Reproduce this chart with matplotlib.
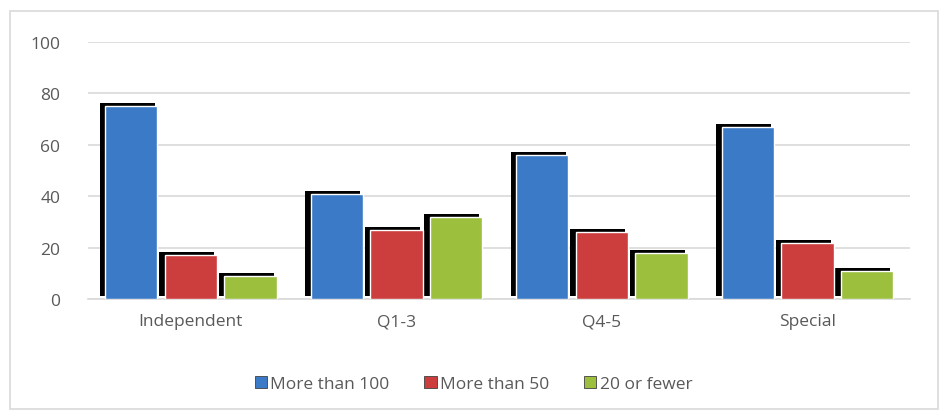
import matplotlib.pyplot as plt
import numpy as np
from matplotlib.transforms import ScaledTranslation
from matplotlib.patches import Rectangle

categories = ["Independent", "Q1-3", "Q4-5", "Special"]
more_than_100 = [75, 41, 56, 67]
more_than_50 = [17, 27, 26, 22]
twenty_or_fewer = [9, 32, 18, 11]

series = [("More than 100", more_than_100, "#3B7AC6"),
          ("More than 50", more_than_50, "#CC3E3E"),
          ("20 or fewer", twenty_or_fewer, "#9CBF3E")]

plt.rcParams['font.family'] = ['Open Sans', 'DejaVu Sans']

fig = plt.figure(figsize=(9.47, 4.14), dpi=100)
ax = fig.add_axes([0.093, 0.275, 0.868, 0.621])

# outer chart border
fig.patches.append(Rectangle((10/947, 1-410/414), 928/947, 398/414,
                             transform=fig.transFigure, fill=False,
                             edgecolor="#D9D9D9", linewidth=1.2))

x = np.arange(len(categories))
width = 0.255
step = 0.29
shadow = ax.transData + ScaledTranslation(-4/100, 3/100, fig.dpi_scale_trans)

handles = []
for i, (name, vals, col) in enumerate(series):
    pos = x + (i - 1) * step
    ax.bar(pos, vals, width + 0.012, color="black", transform=shadow, zorder=2)
    ax.bar(pos - 0.02, [min(2, v) for v in vals], 0.02, color="black", zorder=2)
    b = ax.bar(pos, vals, width, color=col, edgecolor="white", linewidth=1.0,
               zorder=3, label=name)
    handles.append(b)

ax.set_xlim(-0.5, 3.5)
ax.set_ylim(0, 100)
ax.set_yticks(range(0, 101, 20))
ax.set_xticks(x)
ax.set_xticklabels(categories)
ax.tick_params(length=0, labelsize=12.5, colors="#595959", pad=10)
ax.tick_params(axis="y", pad=20)
ax.grid(axis="y", color="#D9D9D9", linewidth=1.2, zorder=0)
ax.set_axisbelow(True)
for s in ["top", "right", "left"]:
    ax.spines[s].set_visible(False)
ax.spines["bottom"].set_color("#D9D9D9")
ax.spines["bottom"].set_linewidth(1.2)

leg = fig.legend(handles=handles, loc="center", bbox_to_anchor=(0.5, 1-385/414),
                 ncol=3, frameon=False, fontsize=12.5, handlelength=0.7,
                 handleheight=0.7, handletextpad=0.2, columnspacing=2.0)
for t in leg.get_texts():
    t.set_color("#595959")
for h in leg.legend_handles:
    h.set_edgecolor("#404040")
    h.set_linewidth(0.6)

fig.savefig("out.png", dpi=100)
